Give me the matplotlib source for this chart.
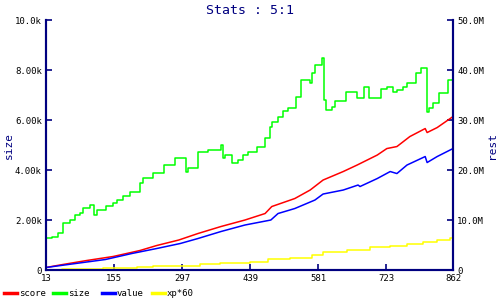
import matplotlib
matplotlib.use("Agg")
import matplotlib.pyplot as plt
from matplotlib.lines import Line2D
from matplotlib.ticker import FixedLocator

# data
size_x = [13, 25, 37, 49, 63, 73, 84, 90, 105, 113, 119, 138, 153, 161, 174, 188, 209, 215, 236,
          259, 282, 305, 309, 330, 351, 378, 382, 386, 401, 414, 424, 434, 453, 470, 480, 484, 497,
          507, 518, 535, 545, 564, 568, 574, 589, 593, 597, 610, 616, 639, 662, 676, 687, 712, 724,
          737, 745, 758, 766, 785, 795, 808, 812, 820, 833, 852, 862]
size_k = [1.28, 1.33, 1.47, 1.88, 2.0, 2.2, 2.28, 2.48, 2.6, 2.2, 2.4, 2.57, 2.68, 2.8, 2.97, 3.13,
          3.48, 3.68, 3.88, 4.2, 4.48, 3.93, 4.08, 4.73, 4.8, 5.0, 4.48, 4.6, 4.28, 4.4, 4.6, 4.73,
          4.93, 5.27, 5.73, 5.93, 6.13, 6.37, 6.47, 6.93, 7.6, 7.47, 7.9, 8.2, 8.47, 6.8, 6.4, 6.53,
          6.77, 7.13, 6.87, 7.33, 6.87, 7.24, 7.33, 7.13, 7.2, 7.33, 7.49, 7.87, 8.07, 6.33, 6.47,
          6.67, 7.07, 7.6, 7.6]

score_x = [13, 42, 98, 153, 209, 244, 290, 330, 378, 428, 470, 484, 532, 564, 591, 633, 662, 704,
           724, 745, 772, 804, 808, 829, 862]
score_m = [0.5, 1.0, 1.9, 2.7, 3.9, 4.9, 6.0, 7.3, 8.7, 10.0, 11.3, 12.7, 14.3, 16.0, 18.0, 19.7,
           21.0, 23.0, 24.3, 24.7, 26.7, 28.3, 27.5, 28.5, 30.7]

value_x = [13, 67, 137, 192, 244, 293, 330, 378, 428, 482, 497, 532, 574, 591, 633, 664, 668, 704,
           731, 745, 766, 804, 808, 829, 862]
value_m = [0.5, 1.2, 2.1, 3.3, 4.3, 5.3, 6.3, 7.7, 9.0, 10.0, 11.3, 12.3, 14.0, 15.2, 16.0, 17.0,
           16.7, 18.3, 19.7, 19.3, 21.0, 22.7, 21.5, 22.7, 24.3]

xp_x = [13, 46, 132, 203, 236, 334, 376, 439, 476, 522, 568, 591, 641, 689, 731, 766, 799, 829,
        856, 862]
xp_m = [0.1, 0.27, 0.47, 0.67, 0.8, 1.13, 1.33, 1.53, 2.13, 2.5, 3.0, 3.7, 4.1, 4.7, 4.9, 5.3,
        5.7, 6.1, 6.5, 6.5]

x_ticks = [13, 155, 297, 439, 581, 723, 862]
left_ticks = [0, 2, 4, 6, 8, 10]
left_labels = ["0", "2.00k", "4.00k", "6.00k", "8.00k", "10.0k"]
right_ticks = [0, 10, 20, 30, 40, 50]
right_labels = ["0", "10.0M", "20.0M", "30.0M", "40.0M", "50.0M"]

navy = "#000080"
mono = "DejaVu Sans Mono"

fig = plt.figure(figsize=(5, 3), dpi=100)
ax = fig.add_axes([0.092, 0.1, 0.814, 0.833])
ax2 = ax.twinx()

ax.plot(size_x, size_k, color="#00ff00", lw=1.1, drawstyle="steps-post")
ax2.plot(score_x, score_m, color="#ff0000", lw=1.1)
ax2.plot(value_x, value_m, color="#0000ff", lw=1.1)
ax2.plot(xp_x, xp_m, color="#ffff00", lw=1.1, drawstyle="steps-post")

ax.set_xlim(13, 862)
ax.set_ylim(0, 10)
ax2.set_ylim(0, 50)

for a in (ax, ax2):
    for s in a.spines.values():
        s.set_color(navy)
        s.set_linewidth(1.5)
    a.spines["top"].set_visible(False)
    a.tick_params(direction="in", length=4, width=1.2, color=navy, labelsize=6.5, pad=3)

ax.xaxis.set_major_locator(FixedLocator(x_ticks))
ax.set_xticklabels([str(v) for v in x_ticks], family=mono, fontsize=6.5)
ax.set_yticks(left_ticks)
ax.set_yticklabels(left_labels, family=mono, fontsize=6.5)
ax2.set_yticks(right_ticks)
ax2.set_yticklabels(right_labels, family=mono, fontsize=6.5)

# axis titles and chart title
fig.text(8.5 / 500, 1 - 145 / 300, "size", color=navy, family=mono, fontsize=8,
         rotation=90, ha="center", va="center")
fig.text(492 / 500, 1 - 145 / 300, "rest", color=navy, family=mono, fontsize=8,
         rotation=90, ha="center", va="center")
fig.text(0.5, 0.965, "Stats : 5:1", color=navy, family=mono, fontsize=9.5, ha="center", va="center")

# legend row at the bottom
leg_names = ["score", "size", "value", "xp*60"]
leg_colors = ["#ff0000", "#00ff00", "#0000ff", "#ffff00"]
leg_x = [4, 53, 102, 152]
ly = 1 - 293 / 300
for name, c, x0 in zip(leg_names, leg_colors, leg_x):
    fig.add_artist(Line2D([x0 / 500, (x0 + 13) / 500], [ly, ly], color=c, lw=2.5,
                          transform=fig.transFigure))
    fig.text((x0 + 15) / 500, ly, name, family=mono, fontsize=6.5, ha="left", va="center")

fig.savefig("out.png", dpi=100)
